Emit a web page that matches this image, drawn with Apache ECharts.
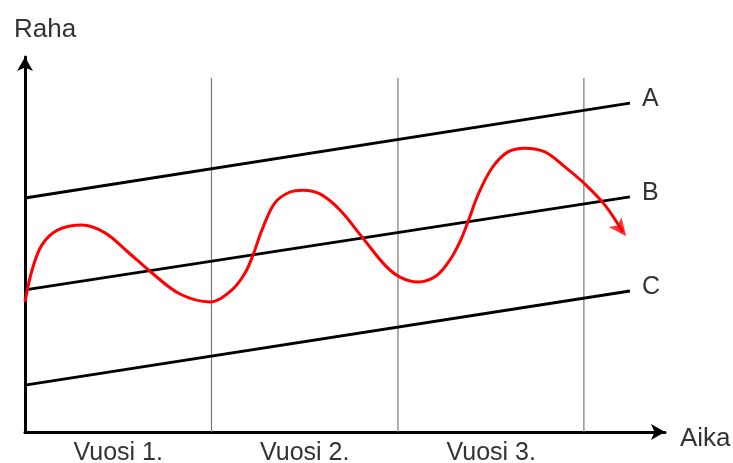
<!DOCTYPE html>
<html>
<head>
<meta charset="utf-8">
<script src="https://cdn.jsdelivr.net/npm/echarts@6/dist/echarts.min.js"></script>
<style>html,body{margin:0;padding:0;background:#fff;}#c{width:733px;height:463px;}</style>
</head>
<body>
<div id="c"></div>
<script>
// x in years, y in money units (0..100)
const yearLabels = ['Vuosi 1.', 'Vuosi 2.', 'Vuosi 3.'];
const yearBoundaries = [1.0, 2.0, 2.997];
const boundaryTop = 94.4;
const lineA = [[0, 62.4], [3.244, 87.7]];
const lineB = [[0, 37.9], [3.244, 62.7]];
const lineC = [[0, 12.5], [3.244, 37.6]];
const wave = [
  [0.000, 34.7], [0.038, 43.2], [0.091, 49.9], [0.177, 53.9], [0.306, 55.2], [0.429, 53.1],
  [0.552, 48.0], [0.681, 42.4], [0.831, 36.8], [0.992, 34.7], [1.110, 37.9], [1.180, 42.4],
  [1.223, 47.2], [1.271, 53.9], [1.340, 61.1], [1.421, 64.0], [1.491, 64.5], [1.582, 63.5],
  [1.689, 59.2], [1.812, 51.7], [1.930, 44.5], [2.011, 41.3], [2.107, 40.0], [2.204, 41.6],
  [2.279, 45.9], [2.332, 50.7], [2.375, 56.0], [2.429, 63.2], [2.504, 70.4], [2.590, 74.7],
  [2.681, 75.7], [2.788, 74.7], [2.895, 70.7], [2.997, 66.4], [3.110, 60.5], [3.206, 53.3]
];
const arrowHead = [[3.224, 52.2]];
const xMax = 3.432;
const yTitle = 'Raha';
const xTitle = 'Aika';

const textColor = '#333';
const font = 'Liberation Sans, Arial, sans-serif';

const chart = echarts.init(document.getElementById('c'), null, {renderer: 'canvas'});

const series = [];
yearBoundaries.forEach(function (x) {
  series.push({
    type: 'line', data: [[x, 0], [x, boundaryTop]], symbol: 'none', silent: true, z: 1,
    lineStyle: {color: '#7a7a7a', width: 1.2}
  });
});
[['A', lineA], ['B', lineB], ['C', lineC]].forEach(function (p) {
  series.push({
    name: p[0], type: 'line', data: p[1], symbol: 'none', z: 3,
    lineStyle: {color: '#000', width: 3},
    endLabel: {show: true, formatter: '{a}', distance: 12, offset: [0, -4],
      color: textColor, fontSize: 25, fontFamily: font}
  });
});
series.push({
  type: 'line', data: wave, symbol: 'none', smooth: 0.35, z: 4,
  lineStyle: {color: '#ff0000', width: 3}
});
series.push({
  type: 'scatter', data: arrowHead, symbol: 'arrow', symbolSize: [12, 18], symbolRotate: -142,
  z: 5, itemStyle: {color: '#ff0000'}
});

const titleStyle = {fontSize: 26, fontWeight: 'normal', color: textColor, fontFamily: font};
chart.setOption({
  animation: false,
  title: [
    {text: yTitle, left: 9, top: 12, textStyle: titleStyle},
    {text: xTitle, left: 675, top: 421, textStyle: titleStyle}
  ],
  grid: {left: 25, right: 68, top: 57, bottom: 31, containLabel: false, outerBoundsMode: 'none'},
  xAxis: {
    type: 'value', min: 0, max: xMax, interval: 0.5,
    axisLine: {show: true, symbol: ['none', 'arrow'], symbolSize: [12, 14],
      lineStyle: {color: '#000', width: 3}},
    axisTick: {show: false}, splitLine: {show: false},
    axisLabel: {
      margin: 9, fontSize: 25, color: textColor, fontFamily: font, showMaxLabel: false, showMinLabel: false,
      formatter: function (v) {
        const i = Math.round(v - 0.5);
        if (Math.abs(v - (i + 0.5)) < 1e-6 && i >= 0 && i < yearLabels.length) return yearLabels[i];
        return '';
      }
    }
  },
  yAxis: {
    type: 'value', min: 0, max: 100,
    axisLine: {show: true, symbol: ['none', 'arrow'], symbolSize: [12, 14],
      lineStyle: {color: '#000', width: 3}},
    axisTick: {show: false}, splitLine: {show: false}, axisLabel: {show: false}
  },
  series: series
});
</script>
</body>
</html>
